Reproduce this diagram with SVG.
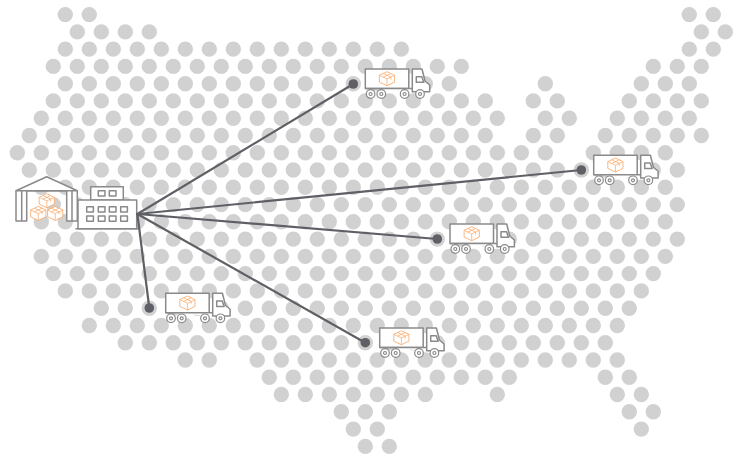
<svg xmlns="http://www.w3.org/2000/svg" width="743" height="457" viewBox="0 0 743 457">
<style>
.dots path{fill:none;stroke:#d1d1d1;stroke-width:15.4;stroke-linecap:round;stroke-dasharray:0 24}
.ln{fill:#fff;stroke:#8a8a8c;stroke-width:1.5;stroke-linejoin:round}
.wh{fill:#fff;stroke:#8a8a8c;stroke-width:1.2}
.cube{fill:#fff;stroke:#f9a561;stroke-width:.8;stroke-linejoin:round}
.tape{fill:none;stroke:#f9a561;stroke-width:.7;stroke-linejoin:round}
.link{fill:none;stroke:#5f6066;stroke-width:2.2;stroke-linecap:round}
.hub{fill:#5f6066}
</style>
<defs>
<g id="cube">
<path class="cube" d="M0-7 7.6-3.4V3.4L0 7-7.6 3.4V-3.4Z"/>
<path class="tape" d="M-7.6-3.4 0 .2 7.6-3.4M0 .2V7M-3.8-5.2 3.8-1.6V.8M3.8-5.2-3.8-1.6"/>
</g>
<g id="truck">
<rect class="ln" x="0" y="0" width="43.5" height="19.5"/>
<path class="ln" d="M0 19.5H47V22.7H64.4V16L59.7 12 56.7 0H47V22.7"/>
<path class="ln" d="M51 7.7H56.5L58.5 13.3H51Z"/>
<g class="wh">
<circle cx="5.3" cy="25" r="4.3"/><circle cx="5.3" cy="25" r="1.5"/>
<circle cx="16" cy="25" r="4.3"/><circle cx="16" cy="25" r="1.5"/>
<circle cx="39.3" cy="25" r="4.3"/><circle cx="39.3" cy="25" r="1.5"/>
<circle cx="54.7" cy="25" r="4.3"/><circle cx="54.7" cy="25" r="1.5"/>
</g>
<use href="#cube" x="21.7" y="9.7"/>
</g>
</defs>
<g class="dots" id="map">
<path d="M65.3 14.6H90M689.3 14.6H714"/>
<path d="M77.3 31.9H150M701.3 31.9H726"/>
<path d="M65.3 49.1H402M689.3 49.1H714"/>
<path d="M53.3 66.4H462M653.3 66.4H702"/>
<path d="M65.3 83.7H450M545.3 83.7H546M641.3 83.7H690"/>
<path d="M53.3 100.9H486M533.3 100.9H558M629.3 100.9H702"/>
<path d="M41.3 118.2H498M545.3 118.2H570M617.3 118.2H690"/>
<path d="M29.3 135.5H486M533.3 135.5H558M605.3 135.5H702"/>
<path d="M17.3 152.8H546M593.3 152.8H666"/>
<path d="M29.3 170H678"/>
<path d="M41.3 187.3H666"/>
<path d="M53.3 204.6H678"/>
<path d="M41.3 221.8H666"/>
<path d="M53.3 239.1H678"/>
<path d="M41.3 256.4H666"/>
<path d="M53.3 273.6H654"/>
<path d="M65.3 290.9H642"/>
<path d="M101.3 308.2H630"/>
<path d="M89.3 325.5H618"/>
<path d="M125.3 342.7H606"/>
<path d="M185.3 360H210M257.3 360H618"/>
<path d="M269.3 377.3H510M605.3 377.3H630"/>
<path d="M281.3 394.5H426M497.3 394.5H498M617.3 394.5H642"/>
<path d="M341.3 411.8H390M629.3 411.8H654"/>
<path d="M353.3 429.1H378M641.3 429.1H642"/>
<path d="M365.3 446.4H390"/>
</g>
<g id="warehouse">
<path class="ln" d="M16 190.7 46.7 176.7 77.3 190.7Z"/>
<path class="ln" d="M16 190.7H77.3V221H66.7V190.7M66.7 221V190.7M26.7 190.7V221H16V190.7"/>
<path class="ln" d="M21.7 190.7V221M72 190.7V221"/>
<use href="#cube" x="46.8" y="200.7"/>
<use href="#cube" x="38.3" y="213.4"/>
<use href="#cube" x="55.2" y="213.4"/>
</g>
<g id="factory">
<rect class="ln" x="90.7" y="186.7" width="32.6" height="13.3"/>
<rect class="ln" x="78" y="200" width="58.7" height="28.7"/>
<path class="ln" d="M75.5 228.7H138"/>
<g class="ln">
<rect x="98.3" y="190.7" width="6.7" height="5.3"/><rect x="109.3" y="190.7" width="6.7" height="5.3"/>
<rect x="86.7" y="206.7" width="6.7" height="5.3"/><rect x="98.3" y="206.7" width="6.7" height="5.3"/><rect x="109.3" y="206.7" width="6.7" height="5.3"/><rect x="120.7" y="206.7" width="6.7" height="5.3"/>
<rect x="86.7" y="216" width="6.7" height="5.3"/><rect x="98.3" y="216" width="6.7" height="5.3"/><rect x="109.3" y="216" width="6.7" height="5.3"/><rect x="120.7" y="216" width="6.7" height="5.3"/>
</g>
</g>
<g id="connectors">
<path class="link" d="M137.4 214 353.3 84"/>
<path class="link" d="M137.4 214 581.3 170"/>
<path class="link" d="M137.4 214 437.3 239"/>
<path class="link" d="M137.4 214 149.3 308"/>
<path class="link" d="M137.4 214 365.3 342.7"/>
</g>
<g id="stop-1"><circle class="hub" cx="353.3" cy="84" r="4.8"/><use href="#truck" x="365.3" y="69"/></g>
<g id="stop-2"><circle class="hub" cx="581.3" cy="170" r="4.8"/><use href="#truck" x="593.7" y="155.3"/></g>
<g id="stop-3"><circle class="hub" cx="437.3" cy="239" r="4.8"/><use href="#truck" x="450" y="224"/></g>
<g id="stop-4"><circle class="hub" cx="149.3" cy="308" r="4.8"/><use href="#truck" x="165.7" y="293.3"/></g>
<g id="stop-5"><circle class="hub" cx="365.3" cy="342.7" r="4.8"/><use href="#truck" x="379.7" y="328"/></g>
</svg>
